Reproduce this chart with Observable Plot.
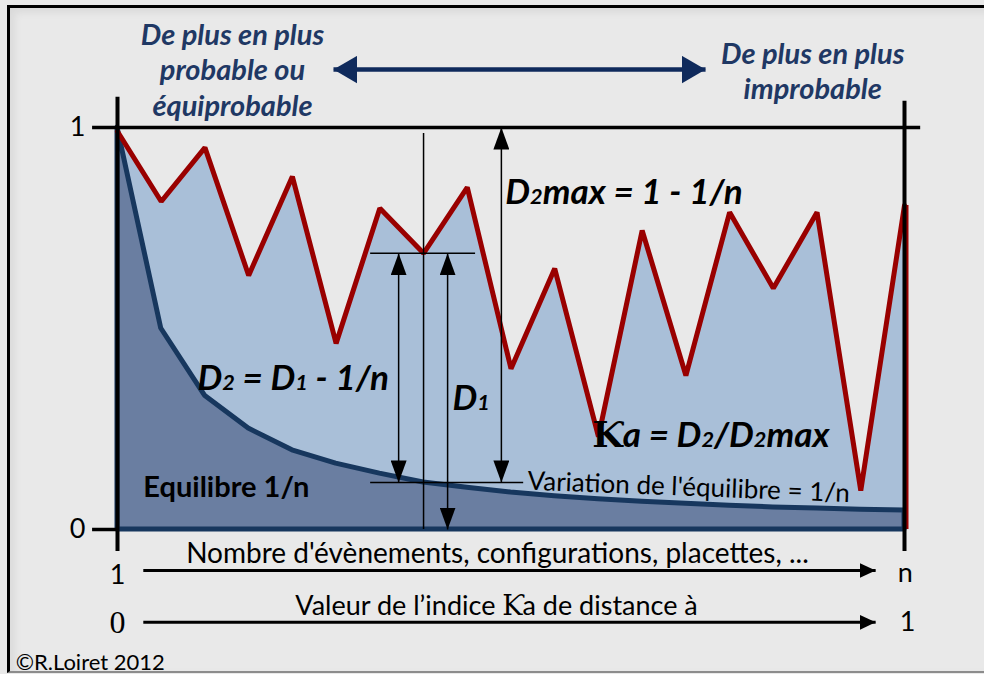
<!DOCTYPE html>
<html><head><meta charset="utf-8">
<script src="https://cdn.jsdelivr.net/npm/d3@7"></script>
<script src="https://cdn.jsdelivr.net/npm/@observablehq/plot@0.6"></script>
<style>
html,body{margin:0;padding:0;background:#e9e9e9;}
#wrap{position:relative;width:984px;height:674px;overflow:hidden;background:#e9e9e9;}
#frame{position:absolute;left:7px;top:5px;width:990px;height:663px;border-left:3px solid #000;border-top:3px solid #000;border-bottom:2px solid #8c8c8c;box-shadow:inset 4px 4px 8px rgba(0,0,0,0.07);}
#wrap svg{position:absolute;left:0;top:0;}
</style></head>
<body><div id="wrap"><div id="frame"></div></div>
<script>
// ---- data ----
const steps = [0,1,2,3,4,5,6,7,8,9,10,11,12,13,14,15,16,17,18];
const dissimilarity = [0.99,0.816,0.95,0.632,0.878,0.463,0.799,0.687,0.851,0.40,0.649,0.231,0.744,0.383,0.789,0.60,0.789,0.097,0.806];
const equilibrium = [1,0.5,0.333,0.251,0.197,0.164,0.139,0.117,0.104,0.092,0.083,0.075,0.069,0.064,0.059,0.055,0.052,0.049,0.047];
const yTicks = [0, 1];
const yTickLabels = ["0", "1"];
const axis1Ends = ["1", "n"];
const axis2Ends = ["0", "1"];

const leftHeader = "De plus en plus\nprobable ou\néquiprobable";
const rightHeader = "De plus en plus\nimprobable";
const axis1Title = "Nombre d'évènements, configurations, placettes, ...";
const axis2Title = "Valeur de l’indice Ƙa de distance à";
const credit = "©R.Loiret 2012";

// ---- derived ----
const rows = steps.map((s, i) => ({s, d: dissimilarity[i], e: equilibrium[i]}));
const last = steps[steps.length - 1];
const k = 7;                       // highlighted step
const yD = dissimilarity[k];
const yE = equilibrium[k];

const navy = "#17375e", red = "#990000", lightFill = "#a9bfd8", darkFill = "#6a7ea1", headNavy = "#1f3864";
const sans = "Lato, 'Open Sans', sans-serif";

const dims = [
  {x: 6.43, y1: yD, y2: yE},
  {x: 7.55, y1: yD, y2: 0},
  {x: 8.78, y1: 1, y2: yE}
];

const chart = Plot.plot({
  width: 984, height: 674,
  marginLeft: 117, marginRight: 80, marginTop: 127, marginBottom: 145,
  x: {domain: [0, last], axis: null},
  y: {domain: [0, 1], axis: null},
  style: {fontFamily: sans, background: "transparent", overflow: "visible", color: "black"},
  marks: [
    Plot.areaY(rows, {x: "s", y: "d", fill: lightFill}),
    Plot.areaY(rows, {x: "s", y: "e", fill: darkFill, stroke: navy, strokeWidth: 5, strokeLinejoin: "round"}),
    Plot.line(rows, {x: "s", y: "d", stroke: red, strokeWidth: 5, strokeLinejoin: "miter"}),
    Plot.ruleX([last], {y1: 0, y2: dissimilarity[last], stroke: red, strokeWidth: 3, dx: 2.5}),
    // axes
    Plot.ruleY([1], {x1: -0.57, x2: 18.37, strokeWidth: 3.5}),
    Plot.ruleY([0], {x1: -0.57, x2: 0, strokeWidth: 3.5}),
    Plot.ruleX([0], {y1: -0.055, y2: 1.075, strokeWidth: 4}),
    Plot.ruleX([last], {y1: -0.055, y2: 1.065, strokeWidth: 4}),
    Plot.text(yTicks, {x: 0, y: d => d, text: yTickLabels, dx: -32, textAnchor: "end", fontSize: 27}),
    // dimension lines
    Plot.ruleX([k], {y1: 0, y2: 0.985, strokeWidth: 1.5}),
    Plot.ruleY([yD], {x1: 5.79, x2: 8.19, strokeWidth: 1.5}),
    Plot.ruleY([yE], {x1: 5.79, x2: 9.29, strokeWidth: 1.5}),
    Plot.link(dims, {x1: "x", x2: "x", y1: "y1", y2: "y2", stroke: "black", strokeWidth: 1.5, ariaDescription: "dim-arrows"}),
    // formulas
    Plot.text(["D₂max = 1 - 1/n"], {x: 8.87, y: 0.838, textAnchor: "start", fontSize: 35, fontWeight: "bold", fontStyle: "italic"}),
    Plot.text(["D₂ = D₁ - 1/n"], {x: 1.83, y: 0.376, textAnchor: "start", fontSize: 35, fontWeight: "bold", fontStyle: "italic"}),
    Plot.text(["D₁"], {x: 7.66, y: 0.326, textAnchor: "start", fontSize: 35, fontWeight: "bold", fontStyle: "italic"}),
    Plot.text(["Ƙa = D₂/D₂max"], {x: 10.86, y: 0.234, textAnchor: "start", fontSize: 35, fontWeight: "bold", fontStyle: "italic"}),
    Plot.text(["Equilibre 1/n"], {x: 0.59, y: 0.104, textAnchor: "start", fontSize: 29, fontWeight: "bold"}),
    Plot.text(["Variation de l'équilibre = 1/n"], {x: 9.38, y: 0.12, textAnchor: "start", fontSize: 26, rotate: 2.2}),
    // bottom axes
    Plot.text([axis1Title], {x: 8.69, y: -0.06, fontSize: 28}),
    Plot.link([{x1: 0.59, x2: 17.34, y: -0.102}], {x1: "x1", x2: "x2", y1: "y", y2: "y", stroke: "black", strokeWidth: 3, ariaDescription: "axis-arrows"}),
    Plot.text([axis1Ends[0]], {x: 0, y: -0.114, fontSize: 27}),
    Plot.text([axis1Ends[1]], {x: 18.02, y: -0.108, fontSize: 27}),
    Plot.text([axis2Title], {x: 8.67, y: -0.19, fontSize: 27}),
    Plot.link([{x1: 0.59, x2: 17.34, y: -0.231}], {x1: "x1", x2: "x2", y1: "y", y2: "y", stroke: "black", strokeWidth: 3, ariaDescription: "axis-arrows"}),
    Plot.text([axis2Ends[0]], {x: 0, y: -0.231, fontSize: 32, fontFamily: "'Liberation Serif', 'DejaVu Serif', serif"}),
    Plot.text([axis2Ends[1]], {x: 18.07, y: -0.231, fontSize: 27}),
    Plot.text([credit], {x: -2.33, y: -0.331, textAnchor: "start", fontSize: 22}),
    // header
    Plot.text([leftHeader], {x: 2.63, y: 1.1455, fontSize: 29, lineHeight: 1.22, fontWeight: "bold", fontStyle: "italic", fill: headNavy}),
    Plot.text([rightHeader], {x: 15.9, y: 1.143, fontSize: 29, lineHeight: 1.22, fontWeight: "bold", fontStyle: "italic", fill: headNavy}),
    Plot.link([{x1: 4.94, x2: 13.45, y: 1.144}], {x1: "x1", x2: "x2", y1: "y", y2: "y", stroke: "#0f2a5c", strokeWidth: 4.5, ariaDescription: "head-arrow"})
  ]
});

document.getElementById("wrap").appendChild(chart);

// ---- filled arrowheads ----
const svg = d3.select(chart);
const defs = svg.append("defs");
function marker(id, len, wid, color) {
  defs.append("marker").attr("id", id)
    .attr("viewBox", `${-len} ${-wid / 2} ${len} ${wid}`)
    .attr("refX", 0).attr("refY", 0)
    .attr("markerUnits", "userSpaceOnUse")
    .attr("markerWidth", len).attr("markerHeight", wid)
    .attr("orient", "auto-start-reverse")
    .append("path").attr("d", `M${-len},${-wid / 2}L0,0L${-len},${wid / 2}Z`).attr("fill", color);
}
marker("mDim", 22, 16, "black");
marker("mAxis", 16, 15, "black");
marker("mHead", 24, 28, "#0f2a5c");
svg.selectAll('g[aria-description="dim-arrows"] path').attr("marker-start", "url(#mDim)").attr("marker-end", "url(#mDim)");
svg.selectAll('g[aria-description="axis-arrows"] path').attr("marker-end", "url(#mAxis)");
svg.selectAll('g[aria-description="head-arrow"] path').attr("marker-start", "url(#mHead)").attr("marker-end", "url(#mHead)");

// ---- small digits after D, serif Ƙ ----
svg.selectAll("text").each(function () {
  const t = this.textContent;
  if (!/[₁₂Ƙ]/.test(t) || this.querySelector("tspan")) return;
  const sel = d3.select(this);
  sel.text(null);
  t.split(/([₁₂Ƙ])/).forEach(part => {
    if (!part) return;
    if (part === "₁" || part === "₂") sel.append("tspan").attr("font-size", "62%").text(part === "₁" ? "1" : "2");
    else if (part === "Ƙ") sel.append("tspan").attr("font-family", "'DejaVu Serif', serif").attr("font-style", "normal").attr("font-size", "100%").text(part);
    else sel.append("tspan").text(part);
  });
});
</script>
</body></html>
